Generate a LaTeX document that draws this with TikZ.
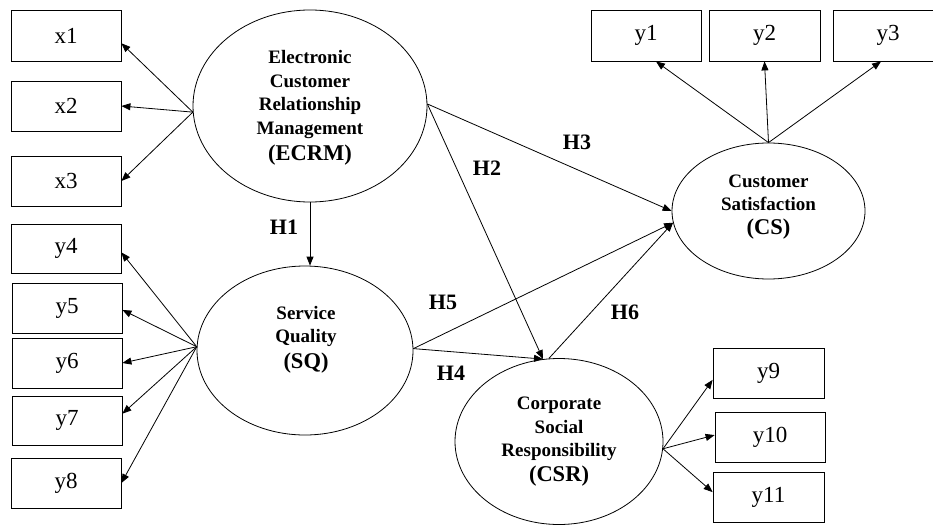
\documentclass[tikz,border=0pt]{standalone}
\usepackage{fontspec}
\setmainfont{Liberation Serif}
\usetikzlibrary{shapes.geometric,arrows.meta}
\begin{document}
\begin{tikzpicture}[x=1pt,y=-1pt,
  ind/.style={draw,line width=0.8pt,minimum width=110pt,minimum height=50pt,inner sep=0pt,font=\fontsize{23}{26}\selectfont},
  lat/.style={draw,ellipse,line width=0.8pt,inner sep=0pt},
  lattxt/.style={align=center,font=\bfseries\fontsize{19}{23.5}\selectfont,inner sep=0pt},
  bigp/.style={},
  hyp/.style={font=\bfseries\fontsize{22}{24}\selectfont,inner sep=0pt},
  arr/.style={line width=0.8pt,-{Triangle[length=9pt,width=7pt]}}]
\useasboundingbox (0,0) rectangle (933,524);

% latent variables
\node[lat,minimum width=234pt,minimum height=192pt] (ecrm) at (310,106) {};
\node[lattxt] (ecrmtxt) at (310,108) {Electronic\\Customer\\Relationship\\Management\\[2.5pt]{\fontsize{22.5}{26}\selectfont (ECRM)}};
\node[lat,minimum width=216pt,minimum height=169pt] (sq) at (305,350.5) {};
\node[lattxt] (sqtxt) at (306,340) {Service\\Quality\\[2.5pt]{\fontsize{22.5}{26}\selectfont (SQ)}};
\node[lat,minimum width=193pt,minimum height=136pt] (cs) at (768.5,211) {};
\node[lattxt] (cstxt) at (768.5,207) {Customer\\Satisfaction\\{\fontsize{22.5}{26}\selectfont (CS)}};
\node[lat,minimum width=208pt,minimum height=166pt] (csr) at (559,441.5) {};
\node[lattxt] (csrtxt) at (559,441.5) {Corporate\\Social\\Responsibility\\[1pt]{\fontsize{22.5}{26}\selectfont (CSR)}};

% indicators
\node[ind,minimum height=51pt] (x1) at (66,35.5) {x1};
\node[ind] (x2) at (66,106) {x2};
\node[ind] (x3) at (66,181) {x3};
\node[ind,minimum height=49pt] (y4) at (66,248.5) {y4};
\node[ind] (y5) at (67,308) {y5};
\node[ind] (y6) at (67,363) {y6};
\node[ind,minimum height=49pt] (y7) at (67,420.5) {y7};
\node[ind] (y8) at (66,483) {y8};
\node[ind,minimum height=51pt] (y1) at (646,35.5) {y1};
\node[ind,minimum height=51pt,minimum width=111pt] (y2) at (764.5,35.5) {y2};
\node[ind,minimum height=51pt] (y3) at (888,35.5) {y3};
\node[ind,minimum width=111pt] (y9) at (768.5,373) {y9};
\node[ind] (y10) at (770,437) {y10};
\node[ind,minimum width=111pt] (y11) at (768.5,497) {y11};

% measurement arrows
\draw[arr] (ecrm.183) -- (x1.-8);
\draw[arr] (ecrm.183) -- (x2.east);
\draw[arr] (ecrm.183) -- (x3.east);
\draw[arr] (sq.178) -- (y4.-4);
\draw[arr] (sq.178) -- (y5.-2);
\draw[arr] (sq.178) -- (y6.east);
\draw[arr] (sq.178) -- (y7.7);
\draw[arr] (sq.178) -- (y8.east);
\draw[arr] (cs.north) -- (y1.-69);
\draw[arr] (cs.north) -- (y2.south);
\draw[arr] (cs.north) -- (y3.-105);
\draw[arr] (csr.-4) -- (y9.187);
\draw[arr] (csr.-4) -- (y10.178);
\draw[arr] (csr.-4) -- (y11.175);

% structural paths
\draw[arr] (ecrm.south) -- (ecrm.south |- sq.north);
\draw[arr] (ecrm.1) -- (csr.101);
\draw[arr] (ecrm.1) -- (cs.180);
\draw[arr] (sq.1) -- (csr.101);
\draw[arr] (sq.1) -- (cs.187);
\draw[arr] (csr.97) -- (cs.187);

% hypothesis labels
\node[hyp] (h1) at (284,227) {H1};
\node[hyp] (h2) at (487,168) {H2};
\node[hyp] (h3) at (577,142) {H3};
\node[hyp] (h4) at (451,373) {H4};
\node[hyp] (h5) at (443,302) {H5};
\node[hyp] (h6) at (625,312) {H6};
\end{tikzpicture}
\end{document}
